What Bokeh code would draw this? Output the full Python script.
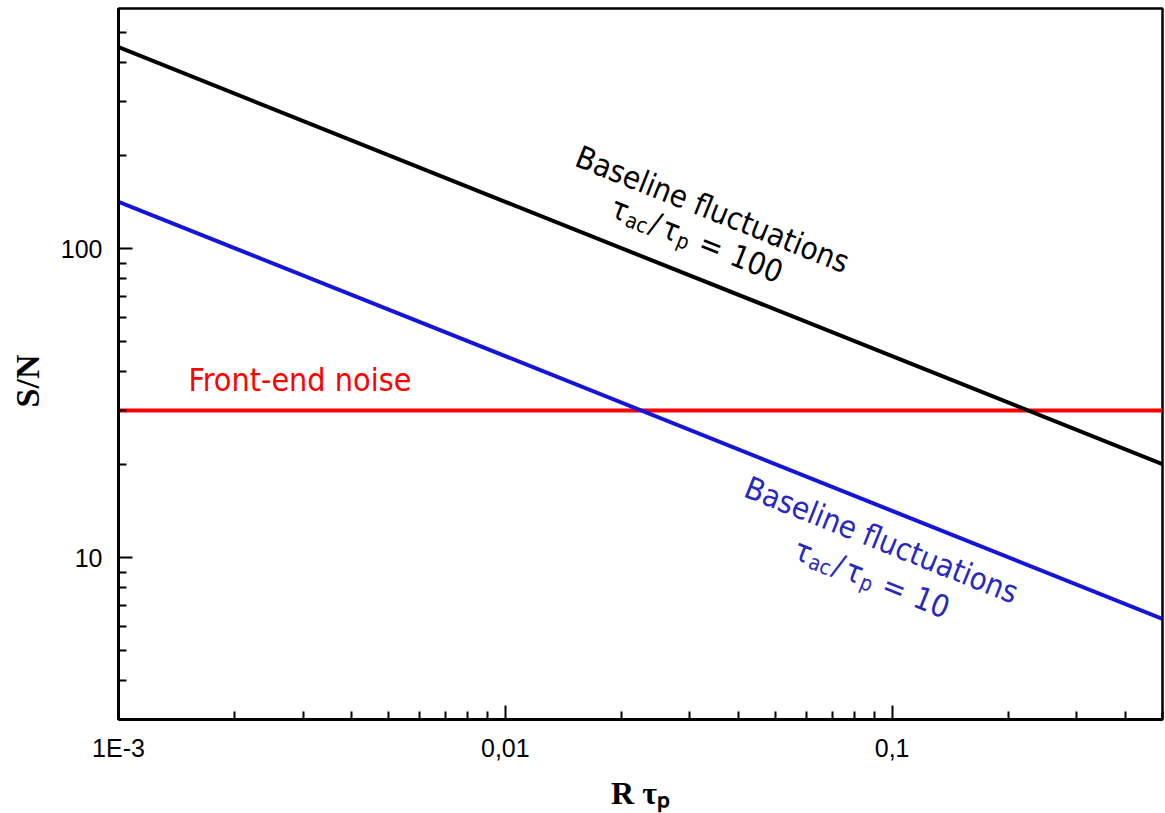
import math

from bokeh.embed import file_html
from bokeh.models import CustomJSTickFormatter, FixedTicker, Label
from bokeh.plotting import figure
from bokeh.resources import INLINE

# --- data -------------------------------------------------------------
r_tau = [0.001, 0.01, 0.1, 0.5]
sn_baseline_100 = [450, 142, 45, 20.1]   # tau_ac / tau_p = 100
sn_baseline_10 = [142, 45, 14.2, 6.35]   # tau_ac / tau_p = 10
r_tau_noise = [0.001, 0.5]
sn_front_end = [30, 30]

x_major = [0.001, 0.01, 0.1]
x_major_labels = ["1E-3", "0,01", "0,1"]
x_minor = [0.002, 0.003, 0.004, 0.005, 0.006, 0.007, 0.008, 0.009,
           0.02, 0.03, 0.04, 0.05, 0.06, 0.07, 0.08, 0.09,
           0.2, 0.3, 0.4, 0.5]
y_major = [10, 100]
y_major_labels = ["10", "100"]
y_minor = [4, 5, 6, 7, 8, 9, 20, 30, 40, 50, 60, 70, 80, 90,
           200, 300, 400, 500]

# --- figure -----------------------------------------------------------
p = figure(width=1165, height=813,
           x_axis_type="log", y_axis_type="log",
           x_range=(0.001, 0.5), y_range=(3, 600),
           output_backend="svg", toolbar_location=None,
           min_border_left=118, min_border_right=3,
           min_border_top=8, min_border_bottom=93)
p.background_fill_color = "white"
p.border_fill_color = "white"
p.outline_line_color = "black"
p.outline_line_width = 2.5
p.xgrid.visible = False
p.ygrid.visible = False

fmt_code = """
const i = tick_vals.findIndex(t => Math.abs(t / tick - 1) < 1e-6);
return i >= 0 ? tick_names[i] : "";
"""
p.xaxis.ticker = FixedTicker(ticks=x_major, minor_ticks=x_minor)
p.xaxis.formatter = CustomJSTickFormatter(
    args=dict(tick_vals=x_major, tick_names=x_major_labels), code=fmt_code)
p.yaxis.ticker = FixedTicker(ticks=y_major, minor_ticks=y_minor)
p.yaxis.formatter = CustomJSTickFormatter(
    args=dict(tick_vals=y_major, tick_names=y_major_labels), code=fmt_code)

for ax in (p.xaxis[0], p.yaxis[0]):
    ax.axis_line_color = "black"
    ax.axis_line_width = 3
    ax.major_tick_in = 14
    ax.major_tick_out = 0
    ax.minor_tick_in = 8
    ax.minor_tick_out = 0
    ax.major_tick_line_width = 2
    ax.minor_tick_line_width = 2
    ax.major_tick_line_color = "black"
    ax.minor_tick_line_color = "black"
    ax.major_label_text_font = "Liberation Sans"
    ax.major_label_text_font_size = "25px"
    ax.major_label_text_color = "black"
    ax.axis_label_text_font = "Liberation Serif"
    ax.axis_label_text_font_style = "bold"
    ax.axis_label_text_color = "black"
p.xaxis.major_label_standoff = 14
p.yaxis.major_label_standoff = 16

# axis titles
p.xaxis.axis_label = "R τₚ"
p.xaxis.axis_label_text_font_size = "32px"
p.xaxis.axis_label_standoff = 10
p.yaxis.axis_label = "S/N\u00a0\u00a0\u00a0\u00a0"
p.yaxis.axis_label_text_font_size = "34px"
p.yaxis.axis_label_standoff = 12

# --- curves -----------------------------------------------------------
p.line(r_tau_noise, sn_front_end, line_color="#ff0000", line_width=4)
p.line(r_tau, sn_baseline_100, line_color="black", line_width=4)
p.line(r_tau, sn_baseline_10, line_color="#1414dc", line_width=4)

# --- annotations ------------------------------------------------------
ANN_FONT = "DejaVu Sans Condensed"
ANG = -0.38
ca, sa = math.cos(ANG), math.sin(ANG)


def label(x, y, text, **kw):
    p.add_layout(Label(x=x, y=y, text=text, **kw))


def tilted_ratio(x, y, value, color):
    """tau_ac / tau_p = value, laid out along a tilted baseline."""
    pieces = [("τ", 0, 0, 31), ("ac", 18, 7, 21), ("/", 42, 0, 31),
              ("τ", 55, 0, 31), ("p", 73, 7, 21), ("=", 95, 0, 31),
              (value, 129, 0, 31)]
    for txt, s, drop, size in pieces:
        label(x, y, txt,
              x_offset=s * ca + drop * sa, y_offset=s * sa - drop * ca,
              angle=ANG, text_align="left", text_baseline="alphabetic",
              text_font=ANN_FONT, text_font_size=f"{size}px",
              text_color=color)


label(0.001517, 37.65, "Front-end noise", text_align="left",
      text_baseline="alphabetic", text_font=ANN_FONT,
      text_font_size="32px", text_color="#ff0000")

label(0.03433, 134.5, "Baseline fluctuations", angle=ANG,
      text_align="center", text_baseline="middle", text_font=ANN_FONT,
      text_font_size="31px", text_color="black")
tilted_ratio(0.01890, 138.0, "100", "black")

label(0.09389, 11.45, "Baseline fluctuations", angle=ANG,
      text_align="center", text_baseline="middle", text_font=ANN_FONT,
      text_font_size="31px", text_color="#2828c0")
tilted_ratio(0.05627, 10.79, "10", "#2828c0")

open("out.html", "w").write(file_html(p, INLINE))
